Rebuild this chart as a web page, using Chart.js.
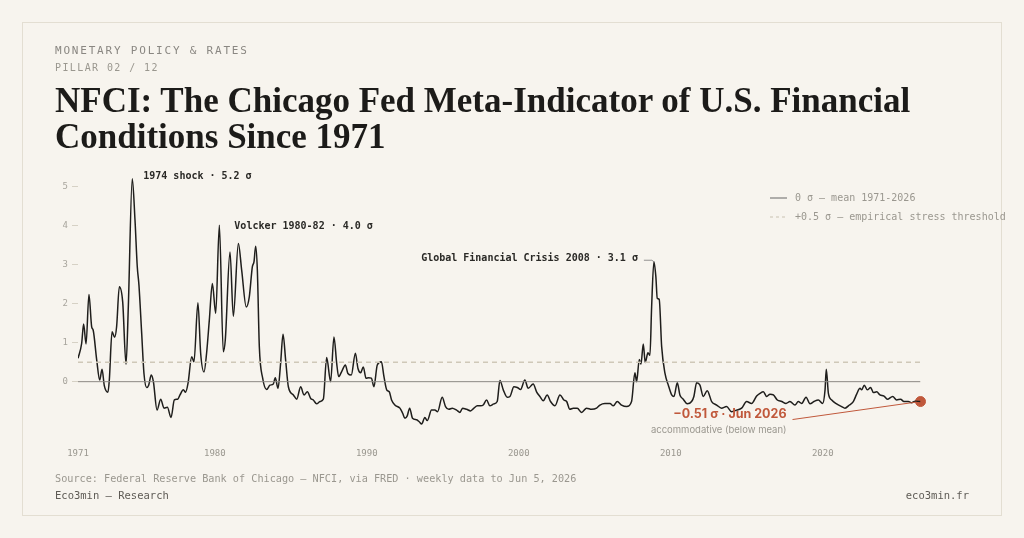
<!DOCTYPE html>
<html>
<head>
<meta charset="utf-8">
<script src="https://cdn.jsdelivr.net/npm/chart.js@4.4.1/dist/chart.umd.min.js"></script>
<style>
  html, body { margin: 0; padding: 0; background: #f7f4ee; }
  body { width: 1024px; height: 538px; position: relative; overflow: hidden; }
  .card { position: absolute; left: 22px; top: 22px; width: 978px; height: 492px; border: 1px solid #e3ded2; }
  #chart { position: absolute; left: 0; top: 0; }
  .t { position: absolute; white-space: nowrap; }
  .eyebrow { left: 55px; top: 44px; font: 11px "DejaVu Sans Mono", monospace; letter-spacing: 1.8px; color: #8a8782; }
  .pillar { left: 55px; top: 62px; font: 10px "DejaVu Sans Mono", monospace; letter-spacing: 1.4px; color: #9a978f; }
  h1 { position: absolute; left: 55px; top: 83px; margin: 0; font: bold 35px/35.5px "Liberation Serif", serif; color: #1c1b19; }
  .source { left: 55px; top: 473px; font: 10.2px "DejaVu Sans Mono", monospace; color: #9a978f; }
  .brand { left: 55px; top: 489px; font: 10.5px "DejaVu Sans Mono", monospace; color: #5e5b55; }
  .site { right: 55px; top: 489px; font: 10.5px "DejaVu Sans Mono", monospace; color: #5e5b55; }
</style>
</head>
<body>
<div class="card"></div>
<canvas id="chart" width="1024" height="538"></canvas>
<div class="t eyebrow">MONETARY POLICY &amp; RATES</div>
<div class="t pillar">PILLAR 02 / 12</div>
<h1>NFCI: The Chicago Fed Meta-Indicator of U.S. Financial<br>Conditions Since 1971</h1>
<div class="t source">Source: Federal Reserve Bank of Chicago — NFCI, via FRED · weekly data to Jun 5, 2026</div>
<div class="t brand">Eco3min — Research</div>
<div class="t site">eco3min.fr</div>
<script>
// NFCI readings (decimal year, sigma)
const dates = [
  1971.00,1971.24,1971.37,1971.53,1971.72,1971.90,1972.00,1972.23,1972.43,1972.58,
  1972.73,1972.97,1973.06,1973.24,1973.41,1973.54,1973.72,1973.94,1974.16,1974.31,
  1974.57,1974.75,1974.90,1975.01,1975.19,1975.34,1975.52,1975.65,1975.82,1975.96,
  1976.20,1976.44,1976.66,1976.88,1977.12,1977.34,1977.56,1977.71,1977.93,1978.08,
  1978.24,1978.48,1978.63,1978.89,1979.07,1979.29,1979.46,1979.64,1979.84,1980.06,
  1980.30,1980.56,1980.69,1981.00,1981.22,1981.55,1981.77,1982.07,1982.27,1982.47,
  1982.58,1982.69,1982.80,1982.93,1983.15,1983.41,1983.63,1983.85,1983.98,1984.16,
  1984.33,1984.49,1984.66,1984.84,1985.17,1985.39,1985.65,1985.87,1986.09,1986.31,
  1986.48,1986.70,1986.92,1987.14,1987.36,1987.62,1987.84,1988.02,1988.15,1988.37,
  1988.59,1988.76,1988.98,1989.25,1989.42,1989.60,1989.77,1989.95,1990.12,1990.30,
  1990.47,1990.69,1990.96,1991.13,1991.31,1991.48,1991.63,1991.85,1992.18,1992.36,
  1992.51,1992.66,1992.82,1993.01,1993.28,1993.45,1993.61,1993.82,1993.98,1994.26,
  1994.48,1994.66,1994.96,1995.18,1995.40,1995.62,1995.91,1996.13,1996.30,1996.57,
  1996.83,1997.05,1997.27,1997.49,1997.66,1997.88,1998.10,1998.36,1998.58,1998.76,
  1998.98,1999.24,1999.42,1999.68,1999.90,2000.12,2000.40,2000.62,2000.95,2001.17,
  2001.39,2001.61,2001.87,2002.09,2002.38,2002.71,2002.97,2003.15,2003.36,2003.58,
  2003.85,2004.13,2004.46,2004.79,2005.12,2005.34,2005.67,2006.00,2006.22,2006.48,
  2006.76,2007.09,2007.42,2007.64,2007.75,2007.93,2008.04,2008.19,2008.32,2008.50,
  2008.63,2008.74,2008.89,2009.02,2009.11,2009.24,2009.40,2009.62,2009.84,2010.06,
  2010.21,2010.43,2010.60,2010.82,2011.09,2011.37,2011.52,2011.70,2011.92,2012.14,
  2012.40,2012.69,2013.02,2013.34,2013.67,2014.00,2014.33,2014.66,2014.99,2015.32,
  2015.65,2015.87,2016.09,2016.31,2016.53,2016.75,2017.01,2017.30,2017.58,2017.84,
  2018.17,2018.39,2018.61,2018.90,2019.16,2019.42,2019.71,2019.99,2020.15,2020.23,
  2020.37,2020.59,2020.91,2021.24,2021.46,2021.75,2022.01,2022.23,2022.45,2022.56,
  2022.73,2022.93,2023.15,2023.33,2023.55,2023.76,2024.03,2024.25,2024.60,2024.86,
  2025.12,2025.34,2025.63,2025.85,2026.07,2026.43
];
const nfci = [
  0.60,0.98,1.48,0.97,2.24,1.41,1.32,0.56,0.04,0.32,
  -0.10,-0.27,0.04,1.28,1.14,1.41,2.44,2.05,0.45,1.92,
  5.21,4.15,2.95,2.48,1.24,0.21,-0.15,-0.09,0.17,0.00,
  -0.73,-0.45,-0.68,-0.66,-0.92,-0.47,-0.45,-0.34,-0.21,-0.27,
  -0.04,0.64,0.51,2.03,0.73,0.25,0.73,1.58,2.52,1.75,
  4.02,0.77,1.07,3.33,1.68,3.55,2.86,1.92,2.18,2.95,
  3.08,3.48,2.86,0.90,0.09,-0.20,-0.09,-0.06,0.10,-0.17,
  0.47,1.22,0.56,-0.13,-0.34,-0.45,-0.13,-0.34,-0.26,-0.43,
  -0.47,-0.57,-0.51,-0.45,0.62,0.00,1.15,0.47,0.13,0.28,
  0.43,0.21,0.17,0.73,0.34,0.23,0.38,0.09,0.10,0.09,
  -0.13,0.43,0.51,0.13,-0.21,-0.26,-0.47,-0.60,-0.68,-0.81,
  -0.94,-0.88,-0.68,-0.94,-0.98,-1.03,-1.09,-0.92,-1.00,-0.73,
  -0.73,-0.77,-0.40,-0.64,-0.71,-0.68,-0.73,-0.79,-0.68,-0.71,
  -0.75,-0.68,-0.62,-0.62,-0.60,-0.47,-0.62,-0.57,-0.51,0.03,
  -0.21,-0.40,-0.38,-0.13,-0.15,-0.20,0.04,-0.17,-0.06,-0.26,
  -0.38,-0.49,-0.34,-0.51,-0.62,-0.34,-0.47,-0.51,-0.71,-0.68,
  -0.68,-0.79,-0.68,-0.71,-0.68,-0.60,-0.56,-0.56,-0.62,-0.51,
  -0.60,-0.64,-0.51,0.23,0.00,0.57,0.45,0.97,0.49,0.74,
  0.68,1.92,3.08,2.69,2.14,2.11,0.90,0.21,-0.09,-0.34,
  -0.38,-0.03,-0.34,-0.45,-0.57,-0.51,-0.38,-0.03,-0.09,-0.38,
  -0.23,-0.51,-0.60,-0.68,-0.64,-0.77,-0.73,-0.68,-0.51,-0.56,
  -0.37,-0.30,-0.26,-0.38,-0.32,-0.34,-0.47,-0.51,-0.56,-0.51,
  -0.60,-0.51,-0.56,-0.40,-0.57,-0.51,-0.47,-0.56,-0.21,0.32,
  -0.30,-0.47,-0.57,-0.64,-0.68,-0.60,-0.51,-0.32,-0.17,-0.21,
  -0.09,-0.21,-0.15,-0.28,-0.26,-0.34,-0.37,-0.45,-0.38,-0.47,
  -0.45,-0.51,-0.51,-0.54,-0.50,-0.51
];
const refYears = [1971, 2026.43];
const meanLine = [0, 0];
const stressLine = [0.5, 0.5];
const xTickYears = [1971, 1980, 1990, 2000, 2010, 2020];
const yTickValues = [0, 1, 2, 3, 4, 5];

const MONO = '"DejaVu Sans Mono", monospace';
const ACCENT = '#c0583b';

const annotations = {
  id: 'annotations',
  afterDatasetsDraw(chart) {
    const ctx = chart.ctx, xs = chart.scales.x, ys = chart.scales.y;
    ctx.save();
    ctx.font = 'bold 10px ' + MONO;
    ctx.fillStyle = '#2a2926';
    ctx.textBaseline = 'middle';
    ctx.textAlign = 'left';
    ctx.fillText('1974 shock · 5.2 σ', xs.getPixelForValue(1974.57) + 11, ys.getPixelForValue(5.26));
    ctx.fillText('Volcker 1980-82 · 4.0 σ', xs.getPixelForValue(1980.30) + 15, ys.getPixelForValue(4.0));
    // GFC label with leader
    const gx = xs.getPixelForValue(2008.89), gy = ys.getPixelForValue(3.08);
    const ty = ys.getPixelForValue(3.17);
    ctx.textAlign = 'right';
    ctx.fillText('Global Financial Crisis 2008 · 3.1 σ', gx - 16, ty);
    ctx.strokeStyle = '#777';
    ctx.lineWidth = 0.8;
    ctx.beginPath();
    ctx.moveTo(gx - 10, ty + 2);
    ctx.lineTo(gx - 2, ty + 2);
    ctx.lineTo(gx, gy);
    ctx.stroke();
    // latest reading
    const ex = xs.getPixelForValue(dates[dates.length - 1]);
    const ey = ys.getPixelForValue(nfci[nfci.length - 1]);
    const rx = ex - 134;
    ctx.strokeStyle = ACCENT;
    ctx.lineWidth = 1;
    ctx.beginPath();
    ctx.moveTo(rx + 6, ey + 18);
    ctx.lineTo(ex - 4, ey + 0.5);
    ctx.stroke();
    ctx.font = 'bold 12.5px Inter, sans-serif';
    ctx.fillStyle = ACCENT;
    ctx.fillText('−0.51 σ · Jun 2026', rx, ey + 12.5);
    ctx.font = '9.5px Inter, sans-serif';
    ctx.fillStyle = '#9a978f';
    ctx.fillText('accommodative (below mean)', rx, ey + 29);
    // legend
    const lx = 770;
    ctx.lineWidth = 1;
    ctx.strokeStyle = '#666';
    ctx.beginPath(); ctx.moveTo(lx, 198); ctx.lineTo(lx + 17, 198); ctx.stroke();
    ctx.strokeStyle = '#c9c2b2';
    ctx.setLineDash([3, 3]);
    ctx.beginPath(); ctx.moveTo(lx, 217); ctx.lineTo(lx + 17, 217); ctx.stroke();
    ctx.setLineDash([]);
    ctx.font = '10px ' + MONO;
    ctx.fillStyle = '#9a978f';
    ctx.textAlign = 'left';
    ctx.fillText('0 σ — mean 1971-2026', lx + 25, 198);
    ctx.fillText('+0.5 σ — empirical stress threshold', lx + 25, 217);
    ctx.restore();
  }
};

new Chart(document.getElementById('chart'), {
  type: 'line',
  data: {
    datasets: [
      {
        data: refYears.map((x, i) => ({ x: x, y: stressLine[i] })),
        borderColor: '#cfc8b8', borderWidth: 1.5, borderDash: [5, 4], pointRadius: 0
      },
      {
        data: refYears.map((x, i) => ({ x: x, y: meanLine[i] })),
        borderColor: '#8c8984', borderWidth: 1, pointRadius: 0
      },
      {
        data: dates.map((x, i) => ({ x: x, y: nfci[i] })),
        borderColor: '#1f1e1c', borderWidth: 1.5, pointRadius: 0,
        cubicInterpolationMode: 'monotone'
      },
      {
        data: [{ x: dates[dates.length - 1], y: nfci[nfci.length - 1] }],
        showLine: false, clip: false, pointRadius: 5, pointBackgroundColor: ACCENT, pointBorderColor: ACCENT
      }
    ]
  },
  options: {
    responsive: false,
    animation: false,
    plugins: { legend: { display: false }, tooltip: { enabled: false } },
    layout: { padding: { left: 38, right: 103.5, top: 171.4, bottom: 79.6 } },
    scales: {
      x: {
        type: 'linear', min: 1971, max: 2026.43,
        afterBuildTicks: s => { s.ticks = xTickYears.map(v => ({ value: v })); },
        afterFit: s => { s.height = 30; },
        grid: { display: false },
        border: { display: false },
        ticks: { padding: 12, color: '#9a978f', font: { family: MONO, size: 9 }, callback: v => String(v) }
      },
      y: {
        min: -1.2, max: 5.4,
        afterBuildTicks: s => { s.ticks = yTickValues.map(v => ({ value: v })); },
        afterFit: s => { s.width = 40; },
        grid: { drawOnChartArea: false, drawTicks: true, tickLength: 6, color: '#d6d1c5' },
        border: { display: false },
        ticks: { padding: 4, color: '#a8a59d', font: { family: MONO, size: 9 }, callback: v => String(v) }
      }
    }
  },
  plugins: [annotations]
});
</script>
</body>
</html>
